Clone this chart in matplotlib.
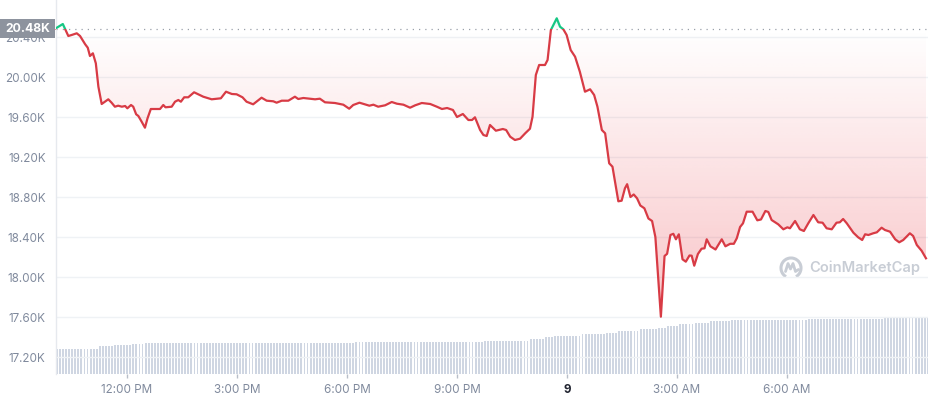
import numpy as np
import matplotlib
matplotlib.use("Agg")
import matplotlib.pyplot as plt
from matplotlib.patches import Rectangle, Arc
from matplotlib.path import Path
from matplotlib.patches import PathPatch

# ---- data (hours since midnight of day 8; price in USD) ----
hours = [10.06, 10.25, 10.40, 10.49, 10.63, 10.72, 10.86, 10.93, 10.99, 11.07,
         11.15, 11.22, 11.31, 11.40, 11.49, 11.58, 11.67, 11.76, 11.86, 11.95,
         12.01, 12.11, 12.17, 12.25, 12.31, 12.40, 12.49, 12.56, 12.65, 12.90,
         12.99, 13.05, 13.22, 13.31, 13.40, 13.47, 13.56, 13.67, 13.83, 14.08,
         14.31, 14.56, 14.70, 14.86, 14.99, 15.15, 15.26, 15.44, 15.67, 15.81,
         15.99, 16.08, 16.22, 16.40, 16.58, 16.67, 16.81, 17.04, 17.13, 17.26,
         17.40, 17.67, 17.90, 18.06, 18.17, 18.34, 18.46, 18.61, 18.72, 18.85,
         19.04, 19.22, 19.36, 19.54, 19.72, 19.86, 20.04, 20.27, 20.45, 20.59,
         20.73, 20.89, 21.00, 21.16, 21.31, 21.41, 21.49, 21.63, 21.72, 21.81,
         21.90, 22.06, 22.25, 22.34, 22.45, 22.58, 22.72, 22.86, 22.99, 23.06,
         23.15, 23.24, 23.40, 23.47, 23.56, 23.72, 23.81, 23.90, 23.99, 24.10,
         24.22, 24.35, 24.49, 24.63, 24.74, 24.83, 24.95, 25.04, 25.15, 25.24,
         25.40, 25.49, 25.58, 25.64, 25.73, 25.82, 25.91, 26.00, 26.11, 26.22,
         26.32, 26.41, 26.56, 26.66, 26.73, 26.82, 26.90, 26.97, 27.05, 27.15,
         27.24, 27.34, 27.40, 27.47, 27.57, 27.67, 27.75, 27.81, 27.91, 28.05,
         28.22, 28.32, 28.45, 28.55, 28.63, 28.72, 28.80, 28.90, 29.06, 29.19,
         29.29, 29.41, 29.49, 29.58, 29.76, 29.90, 30.01, 30.08, 30.22, 30.35,
         30.46, 30.58, 30.72, 30.85, 30.97, 31.08, 31.22, 31.35, 31.44, 31.53,
         31.63, 31.81, 31.94, 32.05, 32.13, 32.22, 32.35, 32.45, 32.58, 32.67,
         32.81, 32.95, 33.06, 33.17, 33.35, 33.44, 33.54, 33.67, 33.79]
prices = [20487, 20530, 20410, 20420, 20437, 20410, 20327, 20293, 20210, 20237,
          20137, 19903, 19730, 19753, 19777, 19743, 19703, 19713, 19703, 19710,
          19687, 19720, 19703, 19627, 19610, 19553, 19493, 19587, 19680, 19680,
          19720, 19697, 19703, 19753, 19770, 19753, 19797, 19797, 19847, 19803,
          19777, 19787, 19853, 19830, 19827, 19797, 19753, 19727, 19793, 19763,
          19757, 19743, 19763, 19763, 19803, 19780, 19790, 19780, 19777, 19783,
          19747, 19740, 19723, 19683, 19720, 19743, 19730, 19713, 19723, 19703,
          19717, 19750, 19733, 19723, 19693, 19717, 19740, 19730, 19703, 19680,
          19690, 19670, 19600, 19630, 19570, 19570, 19597, 19470, 19420, 19410,
          19520, 19463, 19480, 19470, 19403, 19370, 19383, 19437, 19483, 19603,
          20020, 20120, 20120, 20170, 20470, 20587, 20503, 20477, 20420, 20270,
          20203, 20053, 19853, 19877, 19820, 19703, 19470, 19437, 19137, 19103,
          18757, 18763, 18887, 18928, 18800, 18825, 18787, 18715, 18687, 18585,
          18560, 18400, 17603, 18210, 18232, 18420, 18432, 18377, 18427, 18177,
          18153, 18215, 18213, 18113, 18230, 18283, 18287, 18377, 18307, 18275,
          18377, 18307, 18332, 18332, 18387, 18500, 18537, 18653, 18653, 18567,
          18575, 18660, 18650, 18570, 18527, 18477, 18497, 18487, 18560, 18477,
          18460, 18537, 18620, 18547, 18543, 18487, 18477, 18543, 18547, 18580,
          18537, 18443, 18397, 18370, 18427, 18420, 18437, 18447, 18493, 18470,
          18453, 18377, 18347, 18370, 18437, 18410, 18320, 18263, 18187]

# 24h volume (relative units), read as runs of equal bars (5-minute bars)
vol_levels = [24.7, 25.5, 28.0, 29.0, 29.7, 30.7, 31.3, 31.0, 31.3, 32.2,
              33.0, 35.0, 37.0, 38.0, 40.0, 41.0, 43.3, 44.7, 45.7, 48.0,
              49.7, 51.0, 53.0, 54.0, 55.3, 56.5]
vol_counts = [8, 6, 5, 6, 4, 16, 7, 8, 38, 42,
              15, 5, 3, 9, 8, 4, 7, 6, 3, 4,
              5, 5, 7, 25, 25, 15]

baseline_price = 20480
baseline_label = "20.48K"
y_ticks = [17200, 17600, 18000, 18400, 18800, 19200, 19600, 20000, 20400]
y_labels = ["17.20K", "17.60K", "18.00K", "18.40K", "18.80K", "19.20K",
            "19.60K", "20.00K", "20.40K"]
x_ticks = [12, 15, 18, 21, 24, 27, 30]
x_labels = ["12:00 PM", "3:00 PM", "6:00 PM", "9:00 PM", "9", "3:00 AM", "6:00 AM"]

# ---- style ----
RED = "#d83b45"
GREEN = "#16c784"
GRID = "#eff2f5"
TXT = "#808a9d"
BAR = "#cfd6e2"
FONT = ["Inter", "DejaVu Sans"]
plt.rcParams["font.family"] = FONT

W, H = 929, 400
fig = plt.figure(figsize=(W / 100, H / 100), dpi=100)
rect = [56 / W, 26 / H, 872 / W, 374 / H]
axv = fig.add_axes(rect)
ax = fig.add_axes(rect, sharex=axv)
ax.set_zorder(axv.get_zorder() + 1)
ax.patch.set_visible(False)

x0, x1 = 10.064, 33.845
y0, y1 = 17030, 20770
ax.set_xlim(x0, x1)
ax.set_ylim(y0, y1)

# volume bars
vols = np.repeat(vol_levels, vol_counts)
step = 5 / 60
bar_t = x0 + np.arange(len(vols)) * step
axv.bar(bar_t, vols, width=step * 0.62, align="edge", color=BAR, linewidth=0)
axv.set_ylim(0, 374)
axv.axis("off")

# grid
for yt in y_ticks:
    ax.axhline(yt, color=GRID, lw=1, zorder=0.5)

# gradient fill between line and baseline
hrs = np.array(hours)
prs = np.array(prices)
coll = ax.fill_between(hrs, prs, baseline_price, facecolor="none", edgecolor="none")
nrow = 600
rows = np.linspace(y1, y0, nrow)
img = np.zeros((nrow, 2, 4))
red_rgb = np.array([234, 57, 67]) / 255
green_rgb = np.array([22, 199, 132]) / 255
for i, p in enumerate(rows):
    if p < baseline_price:
        a = 0.30 * min(1.0, (baseline_price - p) / (baseline_price - 17600))
        img[i, :, :3] = red_rgb
    else:
        a = 0.15 * min(1.0, (p - baseline_price) / 100)
        img[i, :, :3] = green_rgb
    img[i, :, 3] = a
im = ax.imshow(img, extent=(x0, x1, y0, y1), aspect="auto", origin="upper",
               interpolation="bilinear", zorder=1)
im.set_clip_path(coll.get_paths()[0], ax.transData)

# price line, green above baseline, red below
red_line, = ax.plot(hrs, prs, color=RED, lw=1.6, zorder=3, solid_joinstyle="round")
green_line, = ax.plot(hrs, prs, color=GREEN, lw=1.6, zorder=3, solid_joinstyle="round")
clip_above = Rectangle((x0, baseline_price), x1 - x0, y1 - baseline_price,
                       transform=ax.transData, facecolor="none", edgecolor="none")
clip_below = Rectangle((x0 - 1, y0 - 500), x1 - x0 + 2, baseline_price - y0 + 500,
                       transform=ax.transData, facecolor="none", edgecolor="none")
ax.add_patch(clip_above)
ax.add_patch(clip_below)
green_line.set_clip_path(clip_above)
red_line.set_clip_path(clip_below)

# dotted baseline
ax.axhline(baseline_price, color="#9aa0aa", lw=0.9, ls=(0, (1, 4)), zorder=2)

# axes cosmetics
for s in ["top", "right", "bottom"]:
    ax.spines[s].set_visible(False)
ax.spines["left"].set_color("#e6e9ee")
ax.spines["left"].set_linewidth(1)
ax.set_yticks(y_ticks)
ax.set_yticklabels(y_labels)
ax.tick_params(axis="y", length=0, pad=7.5, labelsize=8.4, labelcolor=TXT)
ax.set_xticks(x_ticks)
ax.set_xticklabels(x_labels)
ax.tick_params(axis="x", length=3, width=1, color="#b8bec8", pad=4,
               labelsize=8.4, labelcolor=TXT)
for lab in ax.get_xticklabels():
    if lab.get_text() == "9":
        lab.set_fontweight("bold")
        lab.set_color("#222531")
plt.setp(axv.get_xticklabels(), visible=False)

# baseline label box (covers the 20.40K tick label, as in the source)
fig.patches.append(Rectangle((0, 1 - 37.7 / H), 55.5 / W, 18.4 / H,
                             transform=fig.transFigure, facecolor="#8d939e",
                             edgecolor="none", zorder=9))
fig.text(28 / W, 1 - 28.7 / H, baseline_label, ha="center", va="center",
         color="white", fontsize=8.8, fontweight="bold", zorder=10)

# watermark
fig.text(809 / W, 1 - 268 / H, "CoinMarketCap", ha="left", va="center",
         color="#c8cdd5", fontsize=10.6, fontweight="semibold", zorder=10)
lax = fig.add_axes([779 / W, 1 - 280 / H, 24 / W, 24 / H])
lax.set_xlim(-1.2, 1.2)
lax.set_ylim(-1.2, 1.2)
lax.axis("off")
lax.add_patch(Arc((0, 0), 2.0, 2.0, theta1=-60, theta2=240, color="#c8cdd5", lw=2.2))
wave = Path([(-0.55, -0.35), (-0.3, 0.45), (-0.05, -0.1), (0.2, 0.45), (0.45, -0.35), (0.75, -0.15)],
            [Path.MOVETO] + [Path.LINETO] * 5)
lax.add_patch(PathPatch(wave, facecolor="none", edgecolor="#c8cdd5", lw=2.0,
                        joinstyle="round", capstyle="round"))

fig.savefig("out.png", dpi=100, facecolor="white")
